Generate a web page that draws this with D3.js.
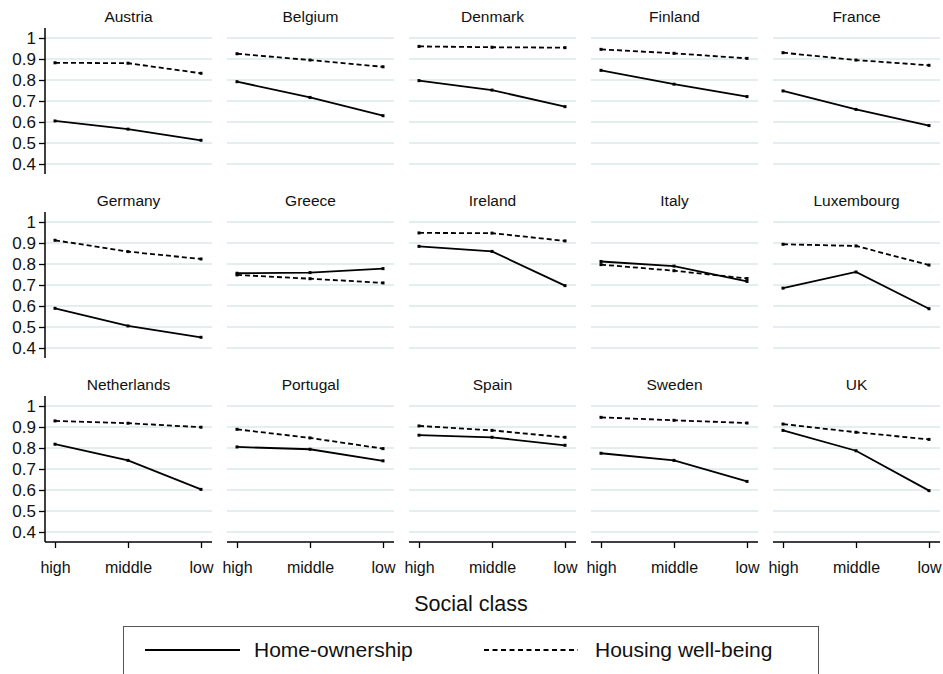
<!DOCTYPE html>
<html>
<head>
<meta charset="utf-8">
<script src="https://cdn.jsdelivr.net/npm/d3@7"></script>
<style>
  html, body { margin: 0; padding: 0; background: #fff; }
  svg { display: block; font-family: "Liberation Sans", Arial, Helvetica, sans-serif; }
</style>
</head>
<body>
<svg id="chart" width="943" height="674"></svg>
<script>
// Countries shown as small multiples, in reading order
const countries = [
  "Austria", "Belgium", "Denmark", "Finland", "France",
  "Germany", "Greece", "Ireland", "Italy", "Luxembourg",
  "Netherlands", "Portugal", "Spain", "Sweden", "UK"
];

// Social class categories on the x axis
const classes = ["high", "middle", "low"];

// Home-ownership rate by class (high, middle, low), one row per country
const homeOwnership = [
  [0.605, 0.566, 0.513],
  [0.792, 0.717, 0.630],
  [0.797, 0.752, 0.673],
  [0.846, 0.780, 0.721],
  [0.748, 0.660, 0.583],
  [0.589, 0.505, 0.451],
  [0.756, 0.759, 0.778],
  [0.884, 0.860, 0.697],
  [0.812, 0.790, 0.717],
  [0.685, 0.762, 0.587],
  [0.818, 0.741, 0.603],
  [0.805, 0.794, 0.739],
  [0.861, 0.851, 0.813],
  [0.775, 0.741, 0.641],
  [0.884, 0.787, 0.597]
];

// Housing well-being by class (high, middle, low), one row per country
const housingWellBeing = [
  [0.882, 0.880, 0.832],
  [0.925, 0.895, 0.863],
  [0.960, 0.956, 0.954],
  [0.946, 0.927, 0.903],
  [0.930, 0.895, 0.870],
  [0.913, 0.859, 0.824],
  [0.748, 0.730, 0.710],
  [0.948, 0.947, 0.910],
  [0.797, 0.768, 0.731],
  [0.894, 0.886, 0.795],
  [0.929, 0.918, 0.899],
  [0.889, 0.848, 0.797],
  [0.905, 0.884, 0.851],
  [0.946, 0.932, 0.919],
  [0.914, 0.875, 0.841]
];

// Y axis tick values
const yTicks = [0.4, 0.5, 0.6, 0.7, 0.8, 0.9, 1];

// Legend entries
const seriesNames = ["Home-ownership", "Housing well-being"];
const xTitle = "Social class";

// ---- layout ----
const nCols = 5;
const left0 = 45, colStep = 182, panelW = 167;
const top0 = 28, rowStep = 184, panelH = 146;
const pad = 10;
const gridColor = "#dde8ea";
const dashPattern = "5,3";

const svg = d3.select("#chart");

const x = d3.scalePoint().domain(classes).range([pad, panelW - 11]);
const y = d3.scaleLinear().domain([0.4, 1]).range([panelH - pad, pad]);

const line = d3.line()
  .x((d, i) => x(classes[i]))
  .y(d => y(d));

const nRows = Math.ceil(countries.length / nCols);

countries.forEach((name, idx) => {
  const col = idx % nCols, row = Math.floor(idx / nCols);
  const g = svg.append("g")
    .attr("transform", `translate(${left0 + col * colStep},${top0 + row * rowStep})`);

  // horizontal gridlines
  g.selectAll("line.grid").data(yTicks).join("line")
    .attr("class", "grid")
    .attr("x1", 0).attr("x2", panelW)
    .attr("y1", d => y(d)).attr("y2", d => y(d))
    .attr("stroke", gridColor).attr("stroke-width", 1.6);

  // panel title
  g.append("text")
    .attr("x", panelW / 2).attr("y", -10)
    .attr("text-anchor", "middle").attr("dominant-baseline", "middle")
    .attr("font-size", 15.5).attr("fill", "#111")
    .text(name);

  // y axis on the first column
  if (col === 0) {
    g.append("line")
      .attr("x1", 0).attr("x2", 0).attr("y1", 0).attr("y2", panelH)
      .attr("stroke", "#000").attr("stroke-width", 1.5);
    const ya = g.append("g")
      .call(d3.axisLeft(y).tickValues(yTicks).tickFormat(d3.format("~g")).tickSize(6).tickPadding(3));
    ya.select(".domain").remove();
    ya.selectAll(".tick line").attr("stroke", "#000").attr("stroke-width", 1.3);
    ya.selectAll(".tick text").attr("font-size", 17).attr("fill", "#111")
      .attr("font-family", "Liberation Sans, Arial, sans-serif");
  }

  // x axis on the bottom row
  if (row === nRows - 1) {
    g.append("line")
      .attr("x1", 0).attr("x2", panelW).attr("y1", panelH).attr("y2", panelH)
      .attr("stroke", "#000").attr("stroke-width", 1.5);
    const xa = g.append("g")
      .attr("transform", `translate(0,${panelH})`)
      .call(d3.axisBottom(x).tickSize(6).tickPadding(14));
    xa.select(".domain").remove();
    xa.selectAll(".tick line").attr("stroke", "#000").attr("stroke-width", 1.3);
    xa.selectAll(".tick text").attr("font-size", 16).attr("fill", "#111")
      .attr("font-family", "Liberation Sans, Arial, sans-serif");
  }

  // series lines
  const series = [
    { values: homeOwnership[idx], dash: null },
    { values: housingWellBeing[idx], dash: dashPattern }
  ];
  series.forEach(s => {
    g.append("path")
      .datum(s.values)
      .attr("d", line)
      .attr("fill", "none")
      .attr("stroke", "#000")
      .attr("stroke-width", 1.8)
      .attr("stroke-dasharray", s.dash);
    g.selectAll(null).data(s.values).join("rect")
      .attr("x", (d, i) => x(classes[i]) - 1.5)
      .attr("y", d => y(d) - 1.5)
      .attr("width", 3).attr("height", 3)
      .attr("fill", "#000");
  });
});

// x axis title
svg.append("text")
  .attr("x", 471).attr("y", 605)
  .attr("text-anchor", "middle").attr("dominant-baseline", "middle")
  .attr("font-size", 21.5).attr("fill", "#111")
  .text(xTitle);

// legend
const legend = svg.append("g");
legend.append("rect")
  .attr("x", 123.5).attr("y", 626.5).attr("width", 695).attr("height", 60)
  .attr("fill", "#fff").attr("stroke", "#555").attr("stroke-width", 1);
const legendItems = [
  { label: seriesNames[0], x1: 145, x2: 240, tx: 254, dash: null },
  { label: seriesNames[1], x1: 484, x2: 578, tx: 595, dash: "5,3.5" }
];
legendItems.forEach(it => {
  legend.append("line")
    .attr("x1", it.x1).attr("x2", it.x2).attr("y1", 650).attr("y2", 650)
    .attr("stroke", "#000").attr("stroke-width", 2)
    .attr("stroke-dasharray", it.dash);
  legend.append("text")
    .attr("x", it.tx).attr("y", 651)
    .attr("dominant-baseline", "middle")
    .attr("font-size", 21).attr("fill", "#111")
    .text(it.label);
});
</script>
</body>
</html>
